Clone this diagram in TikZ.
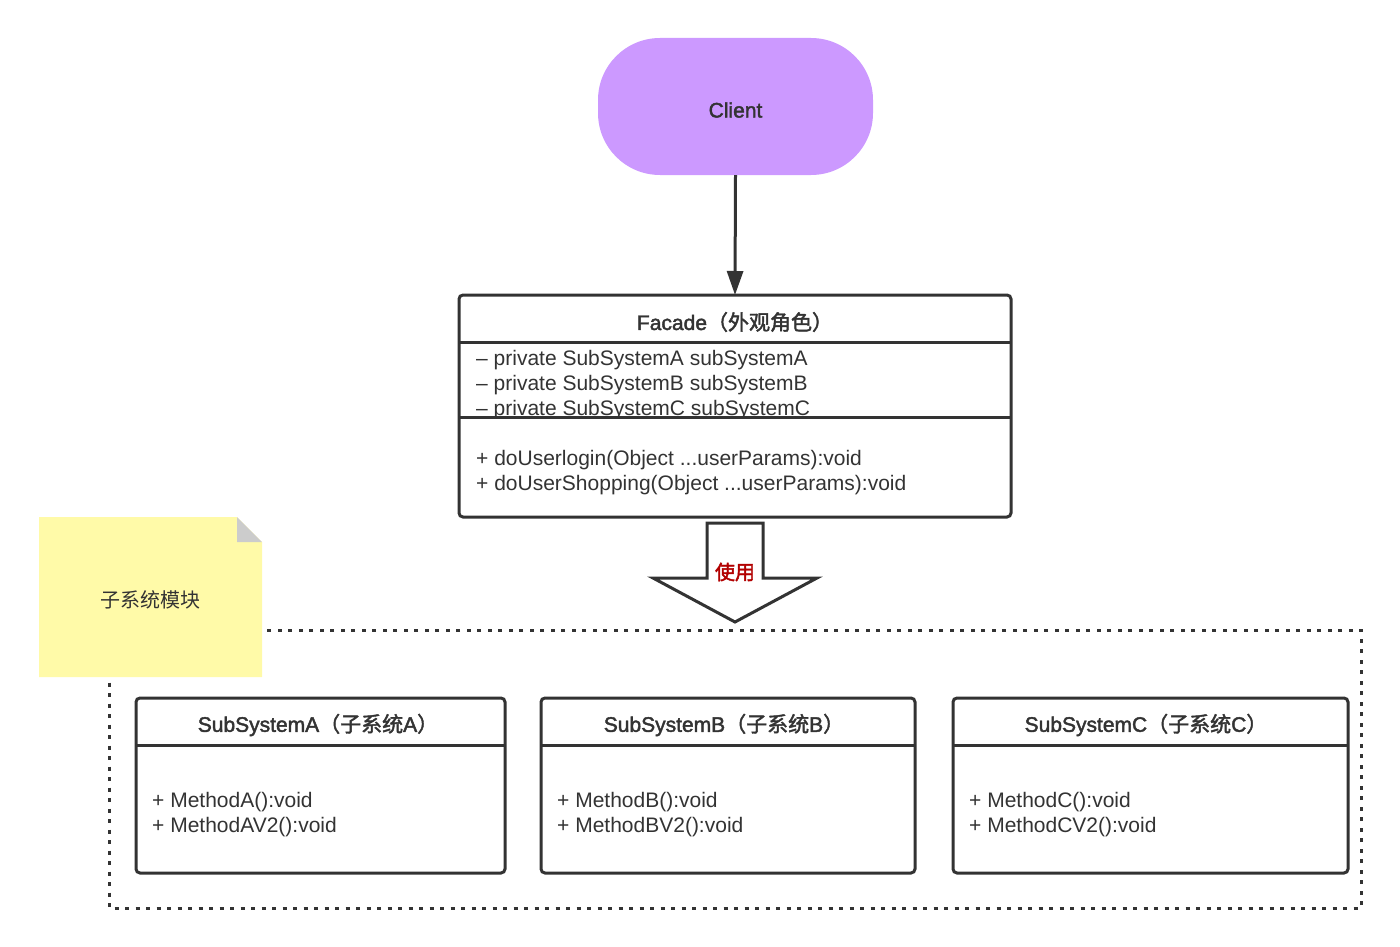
\documentclass[tikz,border=0pt]{standalone}
\usepackage{fontspec}
\setmainfont{Liberation Sans}
\newfontfamily\medfont[FakeBold=2]{Liberation Sans}
\newfontfamily\cjk{Noto Sans CJK SC}
\newfontfamily\medcjk[FakeBold=2]{Noto Sans CJK SC}
\usetikzlibrary{arrows.meta}
\definecolor{ink}{HTML}{333333}
\definecolor{clientfill}{HTML}{CC99FF}
\definecolor{notefill}{HTML}{FFFAA8}
\definecolor{foldfill}{HTML}{CCCCCC}
\definecolor{usered}{HTML}{B20000}
\begin{document}
\begin{tikzpicture}[x=1pt,y=-1pt,
  box/.style={draw=ink, line width=3pt, rounded corners=4pt, fill=white, inner sep=0pt},
  title/.style={text=ink, font=\medfont\fontsize{21}{25}\selectfont, anchor=center},
  member/.style={text=ink, font=\fontsize{21}{25}\selectfont, anchor=west, align=left, inner sep=0pt},
  sep/.style={draw=ink, line width=3pt}]
\useasboundingbox (0,0) rectangle (1400,947);

% client
\node[fill=clientfill, rounded corners=62pt, minimum width=275pt, minimum height=137pt, inner sep=0pt] (client) at (735.5,106.5) {};
\node[text=ink, font=\medfont\fontsize{21}{25}\selectfont] (clientlabel) at (735.5,110) {Client};

% facade
\node[box, minimum width=552pt, minimum height=222pt] (facade) at (735,406) {};
\draw[sep] (459,342) -- (1011,342);
\begin{scope}
\clip (462,344) rectangle (1008,416);
\node[member] (attrs) at (476,385) {– private SubSystemA subSystemA\\– private SubSystemB subSystemB\\– private SubSystemC subSystemC};
\end{scope}
\draw[sep] (459,417) -- (1011,417);
\node[title] (ftitle) at (735,322) {Facade{\medcjk（外观角色）}};
\node[member] (fmeth) at (476,472.5) {+ doUserlogin(Object ...userParams):void\\+ doUserShopping(Object ...userParams):void};

\draw[draw=ink, line width=3pt, -{Triangle[length=24pt,width=16pt]}, shorten >=-1.5pt] (client.south) -- (facade.north);

% dashed module frame
\draw[draw=ink, line width=3pt, dash pattern=on 4pt off 6.5pt] (109,630) rectangle (1361,908);

% big arrow
\coordinate (ua) at (707,523);
\coordinate (ub) at (763,523);
\coordinate (utip) at (735,622);
\draw[draw=ink, line width=3pt, fill=white, line join=miter]
  (ua) -- (707,578) -- (653,578) -- (utip) -- (817,578) -- (763,578) -- (ub) -- cycle;
\node[text=usered, font=\medcjk\fontsize{20}{24}\selectfont] (use) at (735,572) {使用};

% note
\fill[notefill] (39,517) -- (237,517) -- (262,542) -- (262,677) -- (39,677) -- cycle;
\fill[foldfill] (237,517) -- (262,542) -- (237,542) -- cycle;
\node[text=ink, font=\cjk\fontsize{20}{24}\selectfont] (note) at (150.5,600) {子系统模块};

% subsystems
\node[box, minimum width=369pt, minimum height=175pt] (sa) at (320.5,785.5) {};
\draw[sep] (136,745) -- (505,745);
\node[title] (sat) at (318,725) {SubSystemA{\medcjk（子系统}A{\medcjk）}};
\node[member] (sam) at (152,814.5) {+ MethodA():void\\+ MethodAV2():void};

\node[box, minimum width=374pt, minimum height=175pt] (sb) at (728,785.5) {};
\draw[sep] (541,745) -- (915,745);
\node[title] (sbt) at (724,725) {SubSystemB{\medcjk（子系统}B{\medcjk）}};
\node[member] (sbm) at (557,814.5) {+ MethodB():void\\+ MethodBV2():void};

\node[box, minimum width=395pt, minimum height=175pt] (sc) at (1150.5,785.5) {};
\draw[sep] (953,745) -- (1348,745);
\node[title] (sct) at (1146,725) {SubSystemC{\medcjk（子系统}C{\medcjk）}};
\node[member] (scm) at (969,814.5) {+ MethodC():void\\+ MethodCV2():void};
\end{tikzpicture}
\end{document}
